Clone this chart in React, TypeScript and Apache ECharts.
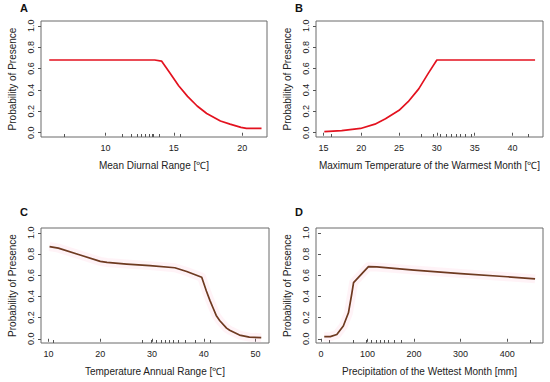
import React, { useEffect, useRef } from "react";
import * as echarts from "echarts";

// Panel A: Mean Diurnal Range
const A_X = [5.9, 13.6, 14.1, 14.7, 15.35, 16.0, 16.7, 17.4, 18.4, 19.1, 19.9, 20.3, 21.4];
const A_Y = [0.68, 0.68, 0.67, 0.56, 0.44, 0.34, 0.25, 0.18, 0.11, 0.08, 0.05, 0.04, 0.04];
const A_RUG = [7.0, 11.2, 11.9, 12.3, 12.6, 12.9, 13.2, 13.4, 13.5, 13.9, 15.5];
const A_TICKS = [10, 15, 20];

// Panel B: Maximum Temperature of the Warmest Month
const B_X = [15.1, 17.4, 19.9, 21.8, 23.2, 25.0, 26.2, 27.6, 28.9, 30.0, 43.0];
const B_Y = [0.01, 0.02, 0.04, 0.08, 0.13, 0.21, 0.29, 0.41, 0.56, 0.68, 0.68];
const B_RUG = [16.0, 27.9, 29.5, 30.5, 31.2, 31.9, 32.6, 33.1, 33.7, 34.6, 42.1];
const B_TICKS = [15, 20, 25, 30, 35, 40];

// Panel C: Temperature Annual Range
const C_X = [10.2, 11.9, 16.1, 20.0, 21.3, 25.1, 29.6, 34.4, 36.7, 39.6, 40.5, 41.2, 41.8, 42.4, 43.1, 44.4, 45.0, 46.9, 48.8, 51.1];
const C_Y = [0.87, 0.855, 0.79, 0.73, 0.72, 0.705, 0.69, 0.67, 0.635, 0.58, 0.45, 0.36, 0.29, 0.22, 0.17, 0.1, 0.08, 0.035, 0.015, 0.01];
const C_RUG = [11.0, 28.1, 29.9, 30.9, 31.8, 32.6, 33.3, 34.1, 35.0, 36.5, 38.3, 41.2];
const C_TICKS = [10, 20, 30, 40, 50];

// Panel D: Precipitation of the Wettest Month
const D_X = [7, 20, 34, 48, 59, 66, 70, 85, 102, 120, 200, 300, 400, 460];
const D_Y = [0.02, 0.02, 0.04, 0.12, 0.245, 0.42, 0.53, 0.6, 0.68, 0.678, 0.648, 0.615, 0.585, 0.565];
const D_RUG = [18, 70, 97, 109, 118, 127, 136, 145, 158, 172, 449];
const D_TICKS = [0, 100, 200, 300, 400];

const Y_TICKS = [0, 0.2, 0.4, 0.6, 0.8, 1.0];

const LETTERS = ["A", "B", "C", "D"];
const X_TITLES = [
  "Mean Diurnal Range [\u2103]",
  "Maximum Temperature of the Warmest Month [\u2103]",
  "Temperature Annual Range [\u2103]",
  "Precipitation of the Wettest Month [mm]",
];
const Y_TITLE = "Probability of Presence";

const FONT = "'Liberation Sans', Arial, sans-serif";

export default function App() {
  const ref = useRef<HTMLDivElement>(null);
  useEffect(() => {
    if (!ref.current) return;
    const chart = echarts.init(ref.current, undefined, { renderer: "svg" });

    const panels = [
      { x: A_X, y: A_Y, rug: A_RUG, ticks: A_TICKS, min: 5.3, max: 21.8, color: "#e3121f", halo: false, grid: { left: 41, top: 21, width: 226, height: 116 }, letter: { left: 20, top: 2 } },
      { x: B_X, y: B_Y, rug: B_RUG, ticks: B_TICKS, min: 14.0, max: 44.05, color: "#e3121f", halo: false, grid: { left: 316, top: 21, width: 227, height: 116 }, letter: { left: 295, top: 2 } },
      { x: C_X, y: C_Y, rug: C_RUG, ticks: C_TICKS, min: 8.55, max: 52.6, color: "#6e3a20", halo: true, grid: { left: 41, top: 228, width: 228, height: 115 }, letter: { left: 20, top: 206 } },
      { x: D_X, y: D_Y, rug: D_RUG, ticks: D_TICKS, min: -10.7, max: 477, color: "#6e3a20", halo: true, grid: { left: 316, top: 228, width: 227, height: 115 }, letter: { left: 295, top: 206 } },
    ];

    const grid: any[] = [];
    const xAxis: any[] = [];
    const yAxis: any[] = [];
    const series: any[] = [];
    const title: any[] = [];

    panels.forEach((p, i) => {
      grid.push({ ...p.grid, show: true, borderColor: "#6a6a6a", borderWidth: 1, backgroundColor: "transparent" });
      title.push({
        text: LETTERS[i],
        left: p.letter.left,
        top: p.letter.top,
        padding: 0,
        textStyle: { fontSize: 11, fontWeight: "bold", color: "#111", fontFamily: FONT },
      });
      xAxis.push({
        type: "value",
        gridIndex: i,
        position: "bottom",
        min: p.min,
        max: p.max,
        axisLine: { show: false },
        splitLine: { show: false },
        axisTick: { show: true, length: 3, customValues: p.ticks, lineStyle: { color: "#555" } },
        axisLabel: { customValues: p.ticks, margin: 6, fontSize: 9, color: "#222", fontFamily: FONT },
        name: X_TITLES[i],
        nameLocation: "middle",
        nameGap: 23,
        nameTextStyle: { fontSize: 10, color: "#222", fontFamily: FONT },
      });
      xAxis.push({
        type: "value",
        gridIndex: i,
        position: "bottom",
        min: p.min,
        max: p.max,
        axisLine: { show: false },
        splitLine: { show: false },
        axisLabel: { show: false },
        axisTick: { show: true, inside: true, length: 3, customValues: p.rug, lineStyle: { color: "#555" } },
      });
      yAxis.push({
        type: "value",
        gridIndex: i,
        min: -0.04,
        max: 1.045,
        axisLine: { show: false },
        splitLine: { show: false },
        axisTick: { show: true, length: 3, customValues: Y_TICKS, lineStyle: { color: "#555" } },
        axisLabel: {
          customValues: Y_TICKS,
          rotate: 90,
          margin: 6,
          fontSize: 9,
          color: "#222",
          fontFamily: FONT,
          formatter: (v: number) => v.toFixed(1),
        },
        name: Y_TITLE,
        nameLocation: "middle",
        nameGap: 24,
        nameTextStyle: { fontSize: 10, color: "#222", fontFamily: FONT },
      });
      const data = p.x.map((xv, k) => [xv, p.y[k]]);
      if (p.halo) {
        series.push({
          type: "line",
          xAxisIndex: i * 2,
          yAxisIndex: i,
          data,
          symbol: "none",
          silent: true,
          lineStyle: { color: "rgba(255,160,190,0.12)", width: 9, join: "round" },
        });
      }
      series.push({
        type: "line",
        xAxisIndex: i * 2,
        yAxisIndex: i,
        data,
        symbol: "none",
        lineStyle: { color: p.color, width: 1.7, join: "round" },
      });
    });

    chart.setOption({
      animation: false,
      backgroundColor: "#ffffff",
      title,
      grid,
      xAxis,
      yAxis,
      series,
    });
    return () => chart.dispose();
  }, []);

  return (
    <div
      ref={ref}
      style={{ position: "fixed", left: 0, top: 0, width: 550, height: 382, background: "#fff" }}
    />
  );
}
